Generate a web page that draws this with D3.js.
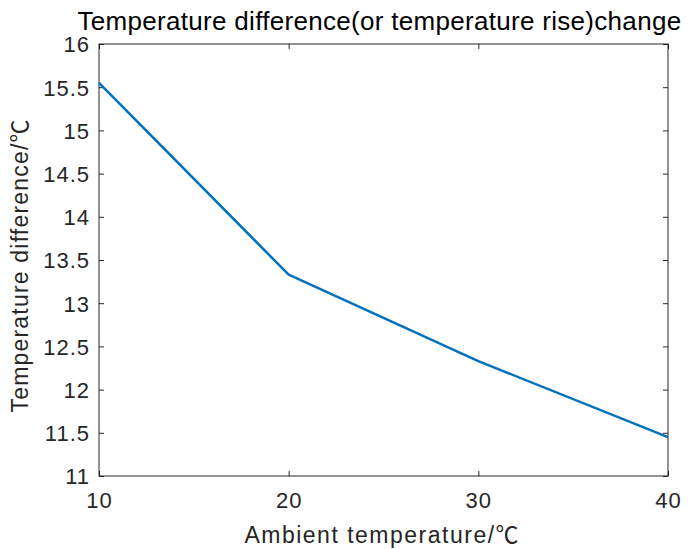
<!DOCTYPE html>
<html>
<head>
<meta charset="utf-8">
<script src="https://cdn.jsdelivr.net/npm/d3@7"></script>
<style>
  body { margin: 0; background: #fff; }
  svg { display: block; font-family: "Liberation Sans", Arial, sans-serif; }
</style>
</head>
<body>
<svg id="chart" width="689" height="549"></svg>
<script>
const ambient = [10, 20, 30, 40];
const tempDiff = [15.55, 13.33, 12.33, 11.45];
const xTicks = [10, 20, 30, 40];
const yTicks = [11, 11.5, 12, 12.5, 13, 13.5, 14, 14.5, 15, 15.5, 16];

const svg = d3.select("#chart");
const margin = { top: 44, right: 21, bottom: 73, left: 99 };
const width = 689 - margin.left - margin.right;
const height = 549 - margin.top - margin.bottom;
const axisColor = "#262626";

const g = svg.append("g").attr("transform", `translate(${margin.left},${margin.top})`);

const x = d3.scaleLinear().domain([10, 40]).range([0, width]);
const y = d3.scaleLinear().domain([11, 16]).range([height, 0]);

// box
g.append("rect")
    .attr("width", width)
    .attr("height", height)
    .attr("fill", "none")
    .attr("stroke", axisColor)
    .attr("stroke-width", 1);

const xAxis = g.append("g")
    .attr("transform", `translate(0,${height})`)
    .call(d3.axisBottom(x).tickValues(xTicks).tickSizeInner(-5).tickSizeOuter(0));
const xTop = g.append("g")
    .call(d3.axisTop(x).tickValues(xTicks).tickSizeInner(-5).tickSizeOuter(0).tickFormat(""));
const yAxis = g.append("g")
    .call(d3.axisLeft(y).tickValues(yTicks).tickSizeInner(-5).tickSizeOuter(0).tickPadding(9).tickFormat(d3.format("")));
const yRight = g.append("g")
    .attr("transform", `translate(${width},0)`)
    .call(d3.axisRight(y).tickValues(yTicks).tickSizeInner(-5).tickSizeOuter(0).tickFormat(""));

[xAxis, xTop, yAxis, yRight].forEach(a => {
    a.select(".domain").remove();
    a.selectAll("line").attr("stroke", axisColor);
    a.selectAll("text")
        .attr("fill", axisColor)
        .style("font-size", "22px")
        .style("letter-spacing", "1px")
        .style("font-family", "Liberation Sans, Arial, sans-serif");
});
// x tick labels: baseline ~32px below the axis
xAxis.selectAll("text").attr("y", 32).attr("dy", null);
yAxis.selectAll("text").attr("dy", "0.36em");

const line = d3.line()
    .x((d, i) => x(ambient[i]))
    .y(d => y(d));

g.append("path")
    .datum(tempDiff)
    .attr("fill", "none")
    .attr("stroke", "#0072BD")
    .attr("stroke-width", 2.5)
    .attr("stroke-linejoin", "round")
    .attr("d", line);

svg.append("text")
    .attr("x", margin.left + width / 2 - 4)
    .attr("y", 30)
    .attr("text-anchor", "middle")
    .attr("fill", "#000")
    .style("font-size", "26px")
    .style("letter-spacing", "0.3px")
    .text("Temperature difference(or temperature rise)change");

const xLabel = svg.append("text")
    .attr("x", margin.left + width / 2 - 2)
    .attr("y", 543)
    .attr("text-anchor", "middle")
    .attr("fill", axisColor)
    .style("font-size", "23px")
    .style("letter-spacing", "1.5px");
xLabel.append("tspan").text("Ambient temperature/");
xLabel.append("tspan").style("font-family", "Noto Sans CJK SC").style("letter-spacing", "0px").text("\u2103");

const yLabel = svg.append("text")
    .attr("transform", `translate(28,${margin.top + height / 2 + 6}) rotate(-90)`)
    .attr("text-anchor", "middle")
    .attr("fill", axisColor)
    .style("font-size", "23px")
    .style("letter-spacing", "1.2px");
yLabel.append("tspan").text("Temperature difference/");
yLabel.append("tspan").style("font-family", "Noto Sans CJK SC").style("letter-spacing", "0px").text("\u2103");
</script>
</body>
</html>
